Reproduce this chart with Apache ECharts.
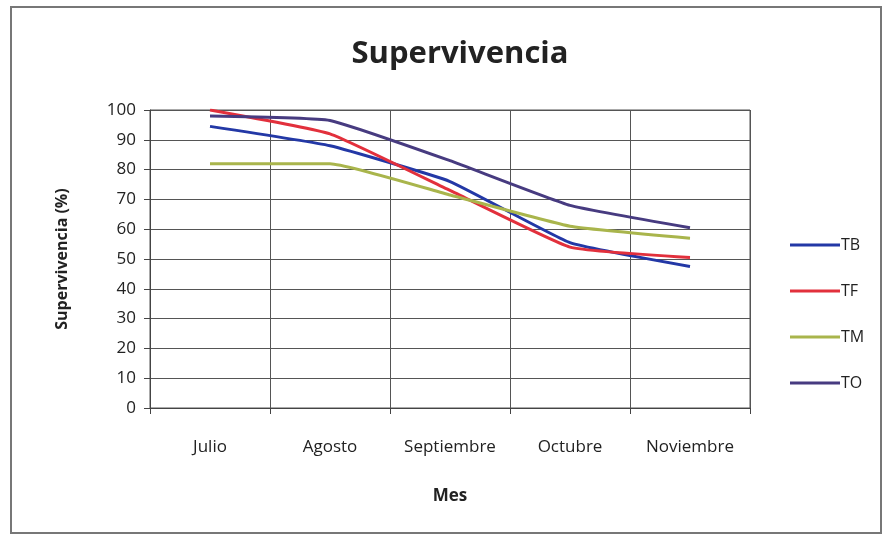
<!DOCTYPE html>
<html lang="es">
<head>
    <meta charset="utf-8">
    <title>Supervivencia</title>
    <script src="https://cdn.jsdelivr.net/npm/echarts@6/dist/echarts.min.js"></script>
    <style>
        html, body { margin: 0; padding: 0; background: #fff; }
        #main { width: 885px; height: 538px; }
        #frame { position: absolute; left: 10px; top: 6px; width: 872px; height: 528px; border: 2px solid #777; box-sizing: border-box; pointer-events: none; }
    </style>
</head>
<body>
<div id="main"></div>
<div id="frame"></div>
<script>
    // datos
    var meses = ['Julio', 'Agosto', 'Septiembre', 'Octubre', 'Noviembre'];
    var tb = [94.5, 88, 76, 55.5, 47.5];
    var tf = [100, 92, 73, 54, 50.5];
    var tm = [82, 82, 71.5, 61, 57];
    var to = [98, 96.5, 83, 68, 60.5];

    var font = "'Open Sans', 'Liberation Sans', sans-serif";
    var myChart = echarts.init(document.getElementById('main'));

    function linea(nombre, datos, color) {
        return {
            name: nombre,
            type: 'line',
            data: datos,
            smooth: 0.12,
            symbol: 'none',
            lineStyle: { width: 3, color: color },
            itemStyle: { color: color }
        };
    }

    var option = {
        animation: false,
        title: {
            text: 'Supervivencia',
            left: 455,
            textAlign: 'center',
            top: 34,
            textStyle: { fontFamily: font, fontSize: 31, fontWeight: 'bold', color: '#222' }
        },
        legend: {
            orient: 'vertical',
            left: 785,
            top: 232,
            icon: 'rect',
            itemWidth: 50,
            itemHeight: 3,
            itemGap: 30,
            textStyle: { fontFamily: font, fontSize: 16, color: '#222', padding: [0, 0, 0, -4] },
            data: ['TB', 'TF', 'TM', 'TO']
        },
        grid: {
            left: 150,
            right: 135,
            top: 110,
            bottom: 130,
            show: true,
            borderColor: '#555',
            borderWidth: 1
        },
        xAxis: {
            type: 'category',
            data: meses,
            boundaryGap: true,
            name: 'Mes',
            nameLocation: 'middle',
            nameGap: 80,
            nameTextStyle: { fontFamily: font, fontSize: 17, fontWeight: 'bold', color: '#222' },
            axisLine: { lineStyle: { color: '#444', width: 1 } },
            axisTick: { show: true, length: 6, lineStyle: { color: '#444' } },
            axisLabel: { fontFamily: font, fontSize: 17, color: '#222', margin: 31 },
            splitLine: { show: true, lineStyle: { color: '#555', width: 1 } }
        },
        yAxis: {
            type: 'value',
            min: 0,
            max: 100,
            interval: 10,
            name: 'Supervivencia (%)',
            nameLocation: 'middle',
            nameGap: 80,
            nameTextStyle: { fontFamily: font, fontSize: 16, fontWeight: 'bold', color: '#222' },
            axisLine: { show: true, lineStyle: { color: '#444', width: 1 } },
            axisTick: { show: true, length: 6, lineStyle: { color: '#444' } },
            axisLabel: { fontFamily: font, fontSize: 17, color: '#222', margin: 14 },
            splitLine: { show: true, lineStyle: { color: '#555', width: 1 } }
        },
        series: [
            linea('TB', tb, '#2338a6'),
            linea('TF', tf, '#e2303c'),
            linea('TM', tm, '#a9b54c'),
            linea('TO', to, '#473b80')
        ]
    };

    myChart.setOption(option);
</script>
</body>
</html>
